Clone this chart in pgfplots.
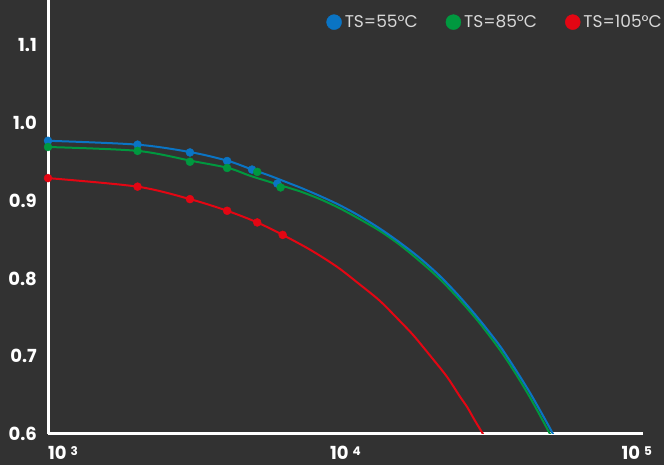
\documentclass[border=0pt]{standalone}
\usepackage{fontspec}
\setmainfont{Poppins}
\usepackage{pgfplots}
\pgfplotsset{compat=1.18}
\definecolor{bg}{HTML}{323232}
\definecolor{cblue}{HTML}{0A74C4}
\definecolor{cgreen}{HTML}{00983F}
\definecolor{cred}{HTML}{E30613}
\definecolor{legtext}{HTML}{D8D8D8}
\newcommand{\pw}[1]{10\hspace{4pt}\raisebox{4.5pt}{\fontsize{12}{12}\selectfont\bfseries #1}}
\begin{document}
\begin{tikzpicture}
\fill[bg] (0,0) rectangle (664pt,465pt);
\path[use as bounding box] (0,0) rectangle (664pt,465pt);
\begin{axis}[
  at={(48pt,31pt)}, anchor=south west,
  scale only axis, width=595pt, height=434pt,
  xmode=log, log basis x=10,
  xmin=1000, xmax=100000,
  ymin=0.6, ymax=1.158,
  axis x line=bottom, axis y line=left,
  axis line style={white, line width=3pt, -},
  major tick length=0pt, minor tick length=0pt,
  xtick={1000,10000,100000},
  xticklabels={\makebox[0pt][l]{\pw{3}}, \pw{4}, \makebox[0pt][r]{\pw{5}\kern-9pt}},
  ytick={0.6,0.7,0.8,0.9,1.0,1.1},
  yticklabels={0.6,0.7,0.8,0.9,1.0,1.1},
  y tick label style={font=\fontsize{18}{18}\selectfont\bfseries, text=white, anchor=east, inner sep=0pt, xshift=-11pt},
  x tick label style={font=\fontsize{18}{18}\selectfont\bfseries, text=white, anchor=north, inner sep=0pt, yshift=-12pt},
  legend columns=3,
  legend image code/.code={\fill[#1] (0pt,0pt) circle (7.5pt);},
  legend style={at={(1.037,0.949)}, anchor=east, draw=none, fill=none,
    inner sep=0pt, text=legtext, font=\fontsize{17}{17}\selectfont,
    nodes={inner xsep=3pt},
    /tikz/every even column/.append style={column sep=25pt}},
  clip=true,
]
\addlegendimage{cblue}
\addlegendentry{TS=55°C}
\addlegendimage{cgreen}
\addlegendentry{TS=85°C}
\addlegendimage{cred}
\addlegendentry{TS=105°C}

% fitted curves
\addplot[forget plot, cgreen, line width=2pt, smooth] table {
x y
1000 0.969
2000 0.964
3049 0.951
4037 0.942
4775 0.932
5574 0.924
6509 0.916
7033 0.912
8211 0.902
9583 0.890
11188 0.876
13061 0.861
15250 0.843
17800 0.822
20780 0.799
24260 0.772
28320 0.742
33060 0.708
37130 0.679
41710 0.647
46840 0.612
48690 0.600
52600 0.574
};
\addplot[forget plot, cblue, line width=2pt, smooth] table {
x y
1000 0.977
2000 0.972
3049 0.962
4037 0.951
4775 0.941
5574 0.932
6509 0.922
7033 0.917
8211 0.906
9583 0.894
11188 0.880
13061 0.864
15250 0.846
17800 0.826
20780 0.803
24260 0.776
28320 0.746
33060 0.713
37130 0.684
41710 0.653
46840 0.619
49830 0.600
52600 0.582
};
\addplot[forget plot, cred, line width=2pt, smooth] table {
x y
1000 0.929
2000 0.918
3000 0.902
4000 0.887
5050 0.872
6150 0.856
7599 0.837
9363 0.815
11188 0.792
13061 0.771
15250 0.745
16900 0.727
19230 0.701
21890 0.674
24260 0.648
25610 0.635
27250 0.617
28980 0.600
29900 0.590
};

% measured points
\addplot[forget plot, only marks, mark=*, mark size=4pt, cblue] table {
x y
1000 0.977
2000 0.972
3000 0.962
4000 0.951
4850 0.940
5900 0.922
};
\addplot[forget plot, only marks, mark=*, mark size=4pt, cgreen] table {
x y
1000 0.969
2000 0.964
3000 0.950
4000 0.942
5050 0.937
6050 0.917
};
\addplot[forget plot, only marks, mark=*, mark size=4pt, cred] table {
x y
1000 0.929
2000 0.918
3000 0.902
4000 0.887
5050 0.872
6150 0.856
};
\end{axis}
\end{tikzpicture}
\end{document}
